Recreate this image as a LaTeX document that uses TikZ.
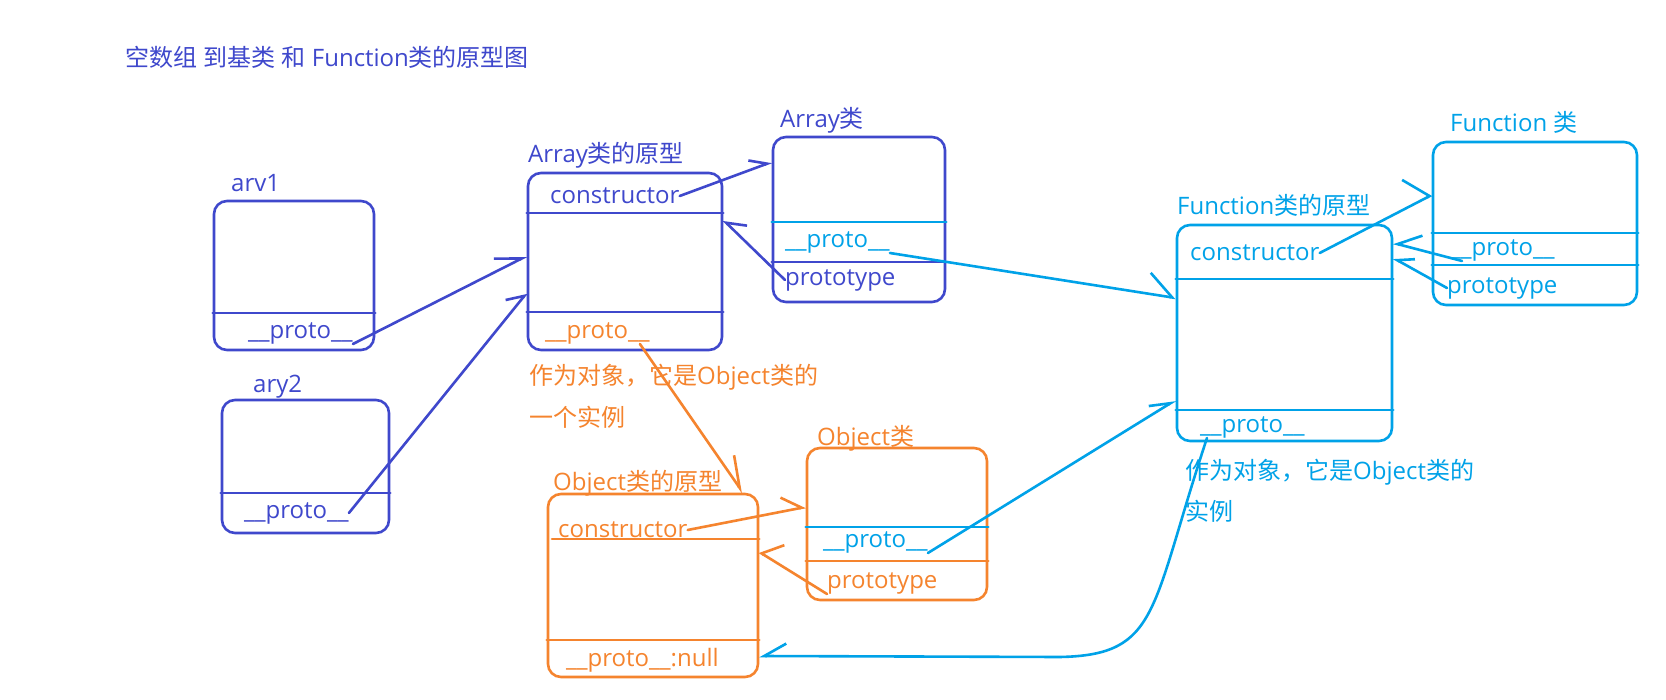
\documentclass[tikz,border=0pt]{standalone}
\usepackage{fontspec}
\setmainfont{Open Sans}
\newfontfamily\cjk{Noto Sans CJK SC}
\usetikzlibrary{arrows.meta}
\definecolor{inkblue}{HTML}{3F48CC}
\definecolor{skyblue}{HTML}{00A2E8}
\definecolor{paintorange}{HTML}{F5842E}
\newcommand{\zh}[1]{{\cjk #1}}
\tikzset{
    box/.style = {
        rectangle,
        draw,
        rounded corners=13pt,
        line width=2.6pt,
        inner sep=0pt
    },
    bluebox/.style   = {box, draw=inkblue},
    skybox/.style    = {box, draw=skyblue},
    orangebox/.style = {box, draw=paintorange},
    lbl/.style = {inner sep=0pt, anchor=west, font=\fontsize{24}{28}\selectfont},
    bluelbl/.style   = {lbl, text=inkblue},
    skylbl/.style    = {lbl, text=skyblue},
    orangelbl/.style = {lbl, text=paintorange},
    wire/.style = {line width=2.6pt, line cap=round},
    barbl/.style 2 args = {wire, -{Straight Barb[harpoon, length=#1pt, width=#2pt]}},
    barbr/.style 2 args = {wire, -{Straight Barb[harpoon, swap, length=#1pt, width=#2pt]}}
}
\begin{document}
\begin{tikzpicture}[x=1pt, y=-1pt]
\fill[white] (0,0) rectangle (1666,700);
\useasboundingbox (0,0) rectangle (1666,700);

% Titre
\node[bluelbl] (title) at (125,57) {\zh{空数组} \zh{到基类} \zh{和} Function\zh{类的原型图}};

% arv1
\node[bluebox, minimum width=160pt, minimum height=149pt] (a1) at (294,275.5) {};
\node[bluelbl] (a1name) at (231,183) {arv1};
\node[bluelbl] (a1p) at (248,333) {\_\_proto\_\_};
\draw[wire, inkblue] (a1.west |- 0,313) -- (a1.east |- 0,313);

% ary2
\node[bluebox, minimum width=167pt, minimum height=133pt] (a2) at (305.5,466.5) {};
\node[bluelbl] (a2name) at (253,387) {ary2};
\node[bluelbl] (a2p) at (244,513) {\_\_proto\_\_};
\draw[wire, inkblue] (a2.west |- 0,493) -- (a2.east |- 0,493);

% Array prototype
\node[bluebox, minimum width=194pt, minimum height=177pt] (ap) at (625,261.5) {};
\node[bluelbl] (apname) at (528,155) {Array\zh{类的原型}};
\node[bluelbl] (apc) at (550,196) {constructor};
\node[orangelbl] (app) at (545,333) {\_\_proto\_\_};
\draw[wire, inkblue] (ap.west |- 0,213) -- (ap.east |- 0,213);
\draw[wire, inkblue] (ap.west |- 0,312) -- (ap.east |- 0,312);
\node[orangelbl] (apnote) at (529,377) {\zh{作为对象，它是}Object\zh{类的}};
\node[orangelbl] (apnote2) at (529,417) {\zh{一个实例}};

% Array class
\node[bluebox, minimum width=172pt, minimum height=165pt] (ac) at (859,219.5) {};
\node[bluelbl] (acname) at (780,120) {Array\zh{类}};
\node[skylbl] (acp) at (785,242) {\_\_proto\_\_};
\node[bluelbl] (acpt) at (785,280) {prototype};
\draw[wire, skyblue] (ac.west |- 0,222) -- (ac.east |- 0,222);
\draw[wire, inkblue] (ac.west |- 0,262) -- (ac.east |- 0,262);

% Function prototype
\node[skybox, minimum width=215pt, minimum height=216pt] (fp) at (1284.5,333) {};
\node[skylbl] (fpname) at (1177,205) {Function\zh{类的原型}};
\node[skylbl] (fpc) at (1190,253) {constructor};
\node[skylbl] (fpp) at (1200,427) {\_\_proto\_\_};
\draw[wire, skyblue] (fp.west |- 0,279) -- (fp.east |- 0,279);
\draw[wire, skyblue] (fp.west |- 0,410) -- (fp.east |- 0,410);
\node[skylbl] (fpnote) at (1185,472) {\zh{作为对象，它是}Object\zh{类的}};
\node[skylbl] (fpnote2) at (1185,511) {\zh{实例}};

% Function class
\node[skybox, minimum width=204pt, minimum height=163pt] (fc) at (1535,223.5) {};
\node[skylbl] (fcname) at (1450,122) {Function \zh{类}};
\node[skylbl] (fcp) at (1450,250) {\_\_proto\_\_};
\node[skylbl] (fcpt) at (1447,288) {prototype};
\draw[wire, skyblue] (fc.west |- 0,233) -- (fc.east |- 0,233);
\draw[wire, skyblue] (fc.west |- 0,265) -- (fc.east |- 0,265);

% Object prototype
\node[orangebox, minimum width=210pt, minimum height=183pt] (op) at (653,585.5) {};
\node[orangelbl] (opname) at (553,483) {Object\zh{类的原型}};
\node[orangelbl] (opc) at (558,530) {constructor};
\node[orangelbl] (opp) at (566,660) {\_\_proto\_\_:null};
\draw[wire, paintorange] (552,539) -- (op.east |- 0,539);
\draw[wire, paintorange] (op.west |- 0,640) -- (op.east |- 0,640);

% Object class
\node[orangebox, minimum width=180pt, minimum height=152pt] (oc) at (897,524) {};
\node[orangelbl] (ocname) at (817,438) {Object\zh{类}};
\node[skylbl] (ocp) at (823,542) {\_\_proto\_\_};
\node[orangelbl] (ocpt) at (827,583) {prototype};
\draw[wire, skyblue] (oc.west |- 0,527) -- (oc.east |- 0,527);
\draw[wire, paintorange] (oc.west |- 0,561) -- (oc.east |- 0,561);

% Liens
\draw[barbl={25}{25}, inkblue] (a1p.south east) -- ([yshift=5.5pt]ap.west);
\draw[barbl={15}{24}, inkblue] (a2p.east) -- ([yshift=-31.5pt]ap.west);
\draw[barbl={16.5}{19}, inkblue] (apc.east) -- ([yshift=57.5pt]ac.west);
\draw[barbr={17}{25}, inkblue] (acpt.west) -- ([yshift=41.5pt]ap.east);
\draw[barbl={25}{42}, skyblue] (acp.south east) -- ([yshift=35pt]fp.west);
\draw[barbl={17}{54}, skyblue] (fpc.east) -- ([yshift=28.5pt]fc.west);
\draw[barbr={22}{29}, skyblue] ([xshift=12pt]fcp.south west) -- ([yshift=90pt]fp.east);
\draw[barbr={15}{19}, skyblue] (fcpt.west) -- ([yshift=75pt]fp.east);
\draw[barbl={30}{28}, paintorange] ([xshift=-10pt]app.south east) -- ([xshift=90pt]op.north);
\draw[barbl={19}{28}, paintorange] (opc.east) -- ([yshift=17pt]oc.west);
\draw[barbr={15}{38}, paintorange] (ocpt.south west) -- ([yshift=33.5pt]op.east);
\draw[barbl={20}{18}, skyblue] (ocp.south east) -- ([yshift=-67pt]fp.west);
\draw[barbr={22}{25}, skyblue] ([xshift=7pt]fpp.south west) .. controls (1150,610) and (1160,655) .. (1060,657) -- ([yshift=-70.5pt]op.east);

\end{tikzpicture}
\end{document}
